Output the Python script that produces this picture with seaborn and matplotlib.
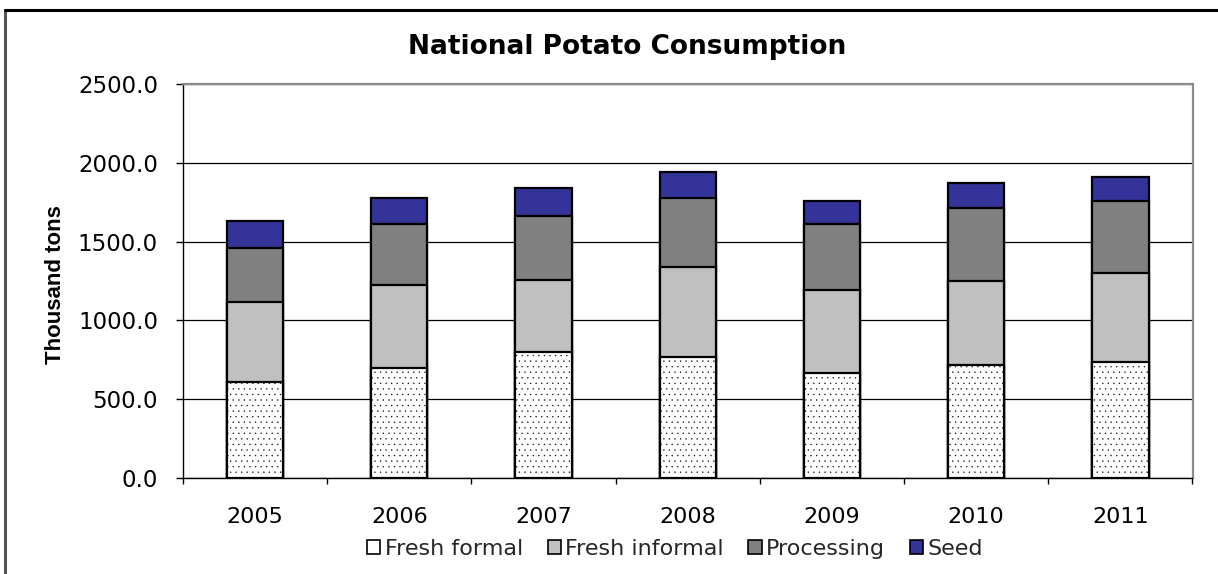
import matplotlib
matplotlib.use("Agg")
import matplotlib.pyplot as plt
from matplotlib.lines import Line2D
from matplotlib.patches import Patch
from matplotlib.ticker import FormatStrFormatter, FixedLocator
import numpy as np
import pandas as pd
import seaborn as sns

# Potato consumption by use (thousand tons)
years = ["2005", "2006", "2007", "2008", "2009", "2010", "2011"]
fresh_formal = [608, 701, 799, 767, 669, 716, 735]
fresh_informal = [508, 521, 457, 574, 521, 534, 565]
processing = [343, 392, 409, 434, 422, 461, 455]
seed = [169, 163, 176, 165, 143, 159, 153]

series_names = ["Fresh formal", "Fresh informal", "Processing", "Seed"]
series_colors = ["#FFFFFF", "#C0C0C0", "#808080", "#333399"]

sns.set_theme(style="white")
plt.rcParams["font.family"] = ["DejaVu Sans"]
plt.rcParams["hatch.color"] = "#CFCFCF"
plt.rcParams["hatch.linewidth"] = 0.2

W, H = 1218, 574
fig = plt.figure(figsize=(W / 100, H / 100), dpi=100)
ax = fig.add_axes([183 / W, 1 - 478 / H, (1192.5 - 183) / W, (478 - 84) / H])

# Stack by drawing cumulative totals from the top layer down
layers = [fresh_formal, fresh_informal, processing, seed]
cum = np.cumsum(np.array(layers, dtype=float), axis=0)
df = pd.DataFrame({"year": years})
for i in range(len(layers) - 1, -1, -1):
    df["value"] = cum[i]
    sns.barplot(
        data=df, x="year", y="value", ax=ax, color=series_colors[i],
        saturation=1, width=0.39, edgecolor="black", linewidth=1.6,
        hatch="..." if i == 0 else None, zorder=3, errorbar=None,
    )

ax.set_ylim(0, 2500)
ax.set_xlim(-0.5, len(years) - 0.5)
ax.set_yticks(np.arange(0, 2501, 500))
ax.yaxis.set_major_formatter(FormatStrFormatter("%.1f"))
ax.yaxis.grid(True, color="black", linewidth=0.9, zorder=0)
ax.set_axisbelow(True)
ax.set_xlabel("")
ax.set_ylabel("")

for side in ["top", "right"]:
    ax.spines[side].set_color("#8C8C8C")
    ax.spines[side].set_linewidth(1.6)
for side in ["left", "bottom"]:
    ax.spines[side].set_color("black")
    ax.spines[side].set_linewidth(1.0)

ax.tick_params(axis="y", which="major", direction="out", length=5, width=1,
               color="black", left=True, pad=13, labelsize=16.5, labelcolor="black")
ax.tick_params(axis="x", which="major", length=0, pad=21, labelsize=16,
               labelcolor="black")
ax.xaxis.set_minor_locator(FixedLocator(np.arange(-0.5, len(years), 1.0)))
ax.tick_params(axis="x", which="minor", direction="out", length=4.3, width=1,
               color="black", bottom=True)

fig.text(627 / W, 1 - 47 / H, "National Potato Consumption", ha="center",
         va="center", fontsize=19, fontweight="bold", color="black")
fig.text(56 / W, 1 - 285 / H, "Thousand tons", rotation=90, ha="center",
         va="center", fontsize=16, fontweight="bold", color="black",
         family=["Liberation Sans", "DejaVu Sans"])

handles = [Patch(facecolor=c, edgecolor="black", linewidth=1.2) for c in series_colors]
fig.legend(handles, series_names, loc="center", bbox_to_anchor=(675 / W, 1 - 549 / H),
           ncol=4, frameon=False, fontsize=16, handlelength=0.6, handleheight=0.6,
           handletextpad=0.2, columnspacing=1.1, borderaxespad=0)

# Chart frame
fig.add_artist(Line2D([5 / W, 5 / W], [0, 1 - 10 / H], transform=fig.transFigure,
                      color="#555555", linewidth=2.2))
fig.add_artist(Line2D([5 / W, 1], [1 - 10 / H, 1 - 10 / H], transform=fig.transFigure,
                      color="black", linewidth=2.2))

fig.savefig("out.png", dpi=100, facecolor="white")
